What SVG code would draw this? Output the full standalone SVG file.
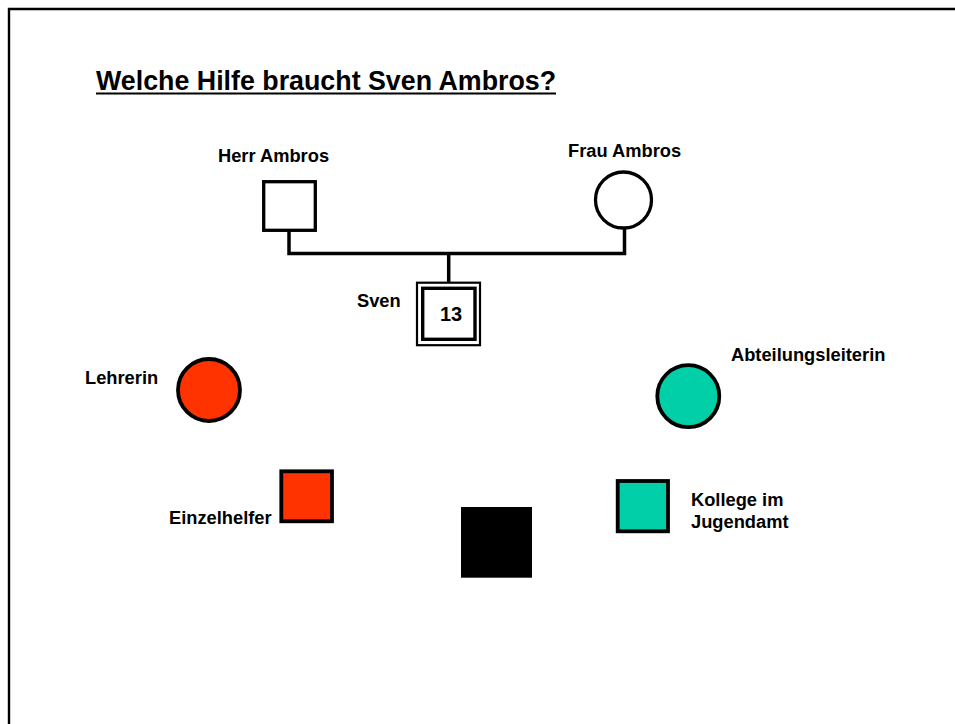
<svg xmlns="http://www.w3.org/2000/svg" width="955" height="724" viewBox="0 0 955 724">
<style>
.t{font-family:"Liberation Sans",Arial,sans-serif;font-weight:bold;fill:#000}
.lab{font-size:18.3px}
.ln{fill:none;stroke:#000;stroke-width:3.5}
.red{fill:#FF3300;stroke:#000;stroke-width:3.8}
.teal{fill:#00CFA8;stroke:#000;stroke-width:3.8}
.wh{fill:#fff;stroke:#000;stroke-width:3.3}
</style>
<rect width="955" height="724" fill="#fff"/>
<path d="M9,724 V9 H955" fill="none" stroke="#000" stroke-width="2.4"/>
<g id="title">
<text class="t" x="96" y="89.5" font-size="26.8">Welche Hilfe braucht Sven Ambros?</text>
<line x1="96" y1="93.5" x2="556" y2="93.5" stroke="#000" stroke-width="2.2"/>
</g>
<g id="connectors">
<path class="ln" d="M289,231 V253.5 H624.5 V227"/>
<path class="ln" d="M448.7,253.5 V288"/>
</g>
<g id="herr-ambros">
<rect class="wh" x="263.7" y="181.7" width="51.6" height="48.6"/>
<text class="t lab" x="218" y="162">Herr Ambros</text>
</g>
<g id="frau-ambros">
<circle class="wh" cx="623.5" cy="200" r="28"/>
<text class="t lab" x="568" y="157">Frau Ambros</text>
</g>
<g id="sven">
<rect x="417" y="282.7" width="63" height="62.5" fill="#fff" stroke="#000" stroke-width="2.2"/>
<rect x="422.7" y="288.3" width="52.3" height="51" fill="#fff" stroke="#000" stroke-width="3.4"/>
<text class="t" x="451" y="321" font-size="20" text-anchor="middle">13</text>
<text class="t lab" x="357" y="306.5">Sven</text>
</g>
<g id="lehrerin">
<circle class="red" cx="209" cy="390" r="31"/>
<text class="t lab" x="85" y="384">Lehrerin</text>
</g>
<g id="einzelhelfer">
<rect class="red" x="281.3" y="471.3" width="50.7" height="50"/>
<text class="t lab" x="169" y="524.3">Einzelhelfer</text>
</g>
<g id="abteilungsleiterin">
<circle class="teal" cx="688.3" cy="396.2" r="31"/>
<text class="t lab" x="731" y="360.7">Abteilungsleiterin</text>
</g>
<g id="kollege">
<rect class="teal" x="617.7" y="481" width="50.3" height="50.3"/>
<text class="t lab" x="691" y="505.7">Kollege im</text>
<text class="t lab" x="691" y="528.3">Jugendamt</text>
</g>
<g id="black-square">
<rect x="461" y="507" width="71" height="70.7" fill="#000"/>
</g>
</svg>
